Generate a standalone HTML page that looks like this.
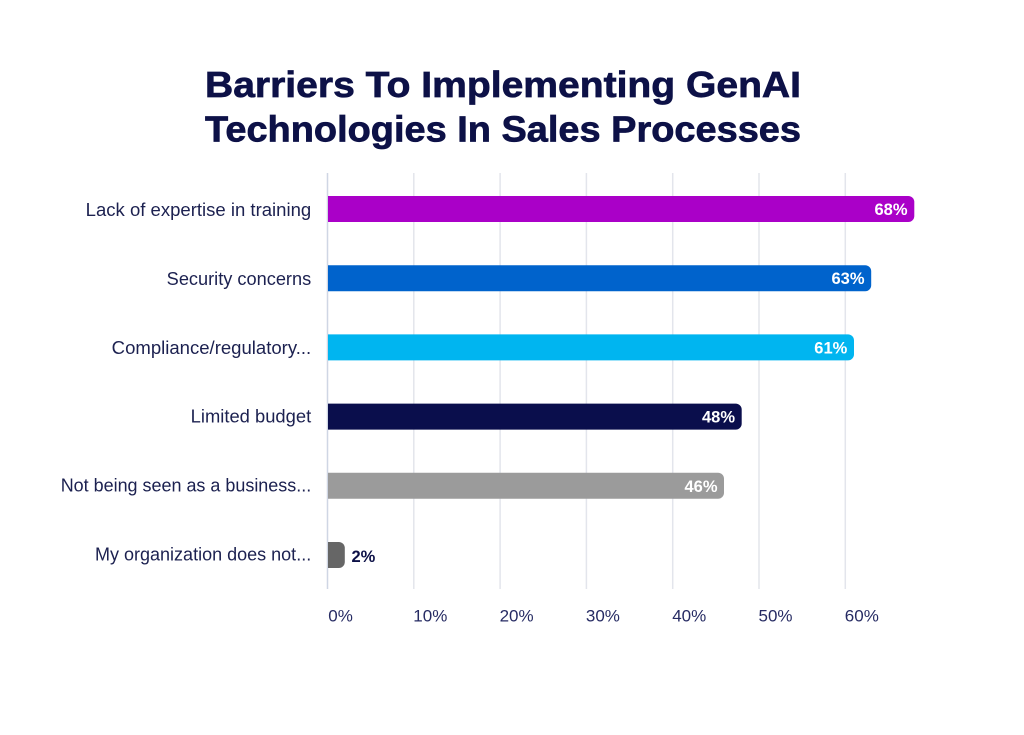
<!DOCTYPE html>
<html>
<head>
<meta charset="utf-8">
<style>
  html, body { margin:0; padding:0; background:#ffffff; }
  svg { display:block; }
  text { font-family: "Liberation Sans", Arial, sans-serif; }
</style>
</head>
<body>
<svg width="1024" height="735" viewBox="0 0 1024 735" xmlns="http://www.w3.org/2000/svg">
  <rect x="0" y="0" width="1024" height="735" fill="#ffffff"/>

  <!-- Title -->
  <g font-size="36" font-weight="bold" fill="#0d1147" stroke="#0d1147" stroke-width="0.7">
    <text x="205" y="97" textLength="596" lengthAdjust="spacingAndGlyphs">Barriers To Implementing GenAI</text>
    <text x="205" y="141.5" textLength="596" lengthAdjust="spacingAndGlyphs">Technologies In Sales Processes</text>
  </g>

  <!-- Gridlines -->
  <g stroke="#e3e5ec" stroke-width="1.5">
    <line x1="413.8" y1="173" x2="413.8" y2="589"/>
    <line x1="500.1" y1="173" x2="500.1" y2="589"/>
    <line x1="586.4" y1="173" x2="586.4" y2="589"/>
    <line x1="672.7" y1="173" x2="672.7" y2="589"/>
    <line x1="759.0" y1="173" x2="759.0" y2="589"/>
    <line x1="845.3" y1="173" x2="845.3" y2="589"/>
  </g>
  <line x1="327.5" y1="173" x2="327.5" y2="589" stroke="#cfd6e4" stroke-width="1.5"/>

  <!-- Bars -->
  <path d="M328 196 H908.3 A6 6 0 0 1 914.3 202 V216 A6 6 0 0 1 908.3 222 H328 Z" fill="#aa00c8"/>
  <path d="M328 265.2 H865.2 A6 6 0 0 1 871.2 271.2 V285.2 A6 6 0 0 1 865.2 291.2 H328 Z" fill="#0063cc"/>
  <path d="M328 334.4 H848 A6 6 0 0 1 854 340.4 V354.4 A6 6 0 0 1 848 360.4 H328 Z" fill="#00b5f0"/>
  <path d="M328 403.6 H735.7 A6 6 0 0 1 741.7 409.6 V423.6 A6 6 0 0 1 735.7 429.6 H328 Z" fill="#0a0e4c"/>
  <path d="M328 472.8 H718 A6 6 0 0 1 724 478.8 V492.8 A6 6 0 0 1 718 498.8 H328 Z" fill="#9b9b9b"/>
  <path d="M328 542 H338.8 A6 6 0 0 1 344.8 548 V562 A6 6 0 0 1 338.8 568 H328 Z" fill="#666666"/>

  <!-- Value labels -->
  <g font-size="16.5" font-weight="bold" fill="#ffffff" text-anchor="end">
    <text x="907.5" y="215">68%</text>
    <text x="864.5" y="284.2">63%</text>
    <text x="847.3" y="353.4">61%</text>
    <text x="735" y="422.6">48%</text>
    <text x="717.5" y="491.8">46%</text>
  </g>
  <text x="351.5" y="562" font-size="16.5" font-weight="bold" fill="#0d1147">2%</text>

  <!-- Category labels -->
  <g font-size="18" fill="#1c2150">
    <text x="85.7" y="216" textLength="225.5" lengthAdjust="spacingAndGlyphs">Lack of expertise in training</text>
    <text x="166.7" y="285" textLength="144.5" lengthAdjust="spacingAndGlyphs">Security concerns</text>
    <text x="111.7" y="354.2" textLength="199.5" lengthAdjust="spacingAndGlyphs">Compliance/regulatory...</text>
    <text x="190.7" y="422.5" textLength="120.5" lengthAdjust="spacingAndGlyphs">Limited budget</text>
    <text x="60.7" y="491.7" textLength="250.5" lengthAdjust="spacingAndGlyphs">Not being seen as a business...</text>
    <text x="95" y="560.5" textLength="216.2" lengthAdjust="spacingAndGlyphs">My organization does not...</text>
  </g>

  <!-- Tick labels -->
  <g font-size="17" fill="#262b63">
    <text x="328.3" y="621.7">0%</text>
    <text x="413.3" y="621.7">10%</text>
    <text x="499.6" y="621.7">20%</text>
    <text x="585.9" y="621.7">30%</text>
    <text x="672.2" y="621.7">40%</text>
    <text x="758.5" y="621.7">50%</text>
    <text x="844.8" y="621.7">60%</text>
  </g>
</svg>
</body>
</html>
